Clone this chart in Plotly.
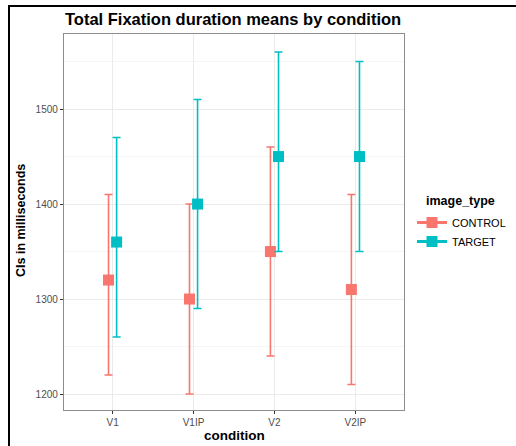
import plotly.graph_objects as go

conditions = ["V1", "V1IP", "V2", "V2IP"]
groups = ["CONTROL", "TARGET"]
control_mean = [1320, 1300, 1350, 1310]
control_low = [1220, 1200, 1240, 1210]
control_high = [1410, 1400, 1460, 1410]
target_mean = [1360, 1400, 1450, 1450]
target_low = [1260, 1290, 1350, 1350]
target_high = [1470, 1510, 1560, 1550]
y_ticks = [1200, 1300, 1400, 1500]

colors = {"CONTROL": "#F8766D", "TARGET": "#00BFC4"}
series = {
    "CONTROL": (control_mean, control_low, control_high, -0.05),
    "TARGET": (target_mean, target_low, target_high, 0.05),
}

W, H = 516, 446
L, R, T, B = 64, 112, 34, 36
pw, ph = W - L - R, H - T - B

def px_x(p):
    return (p - L) / pw

def px_y(p):
    return (H - B - p) / ph

fig = go.Figure()
for g in groups:
    m, lo, hi, off = series[g]
    xs = [i + off for i in range(len(conditions))]
    fig.add_trace(go.Scatter(
        x=xs, y=m, mode="markers", name=g, showlegend=False,
        marker=dict(symbol="square", size=11, color=colors[g]),
        error_y=dict(type="data", symmetric=False,
                     array=[h - v for h, v in zip(hi, m)],
                     arrayminus=[v - l for v, l in zip(m, lo)],
                     color=colors[g], thickness=1.6, width=4),
    ))
for g in groups:
    fig.add_trace(go.Scatter(
        x=[None], y=[None], mode="lines+markers", name=g,
        marker=dict(symbol="square", size=11, color=colors[g]),
        line=dict(color=colors[g], width=3),
    ))

font = "Liberation Sans, Arial, sans-serif"
fig.update_layout(
    width=W, height=H,
    margin=dict(l=L, r=R, t=T, b=B, autoexpand=False),
    paper_bgcolor="white", plot_bgcolor="white",
    font=dict(family=font, color="#000000"),
    title=dict(text="<b>Total Fixation duration means by condition</b>",
               font=dict(size=16.5, color="#000000", family=font),
               x=px_x(65), xref="paper", xanchor="left",
               y=1 - 19 / H, yref="container", yanchor="middle"),
    xaxis=dict(range=[-0.6, 3.6], tickvals=list(range(len(conditions))), ticktext=conditions,
               showgrid=True, gridcolor="#EBEBEB", gridwidth=1.1, zeroline=False,
               showline=True, mirror=True, linecolor="#8C8C8C", linewidth=1.3,
               ticks="outside", ticklen=3, tickcolor="#333333", tickwidth=1,
               tickfont=dict(size=10, color="#4D4D4D", family=font), automargin=False),
    yaxis=dict(range=[1183.2, 1579], tickvals=y_ticks,
               showgrid=True, gridcolor="#EBEBEB", gridwidth=1.1, zeroline=False,
               minor=dict(dtick=50, tick0=1250, showgrid=True, gridcolor="#F5F5F5", gridwidth=0.8, ticks=""),
               showline=True, mirror=True, linecolor="#8C8C8C", linewidth=1.3,
               ticks="outside", ticklen=3, tickcolor="#333333", tickwidth=1,
               tickfont=dict(size=10, color="#4D4D4D", family=font), automargin=False),
    legend=dict(x=px_x(412), y=px_y(208), xanchor="left", yanchor="top",
                font=dict(size=11, color="#000000", family=font),
                bgcolor="rgba(0,0,0,0)", itemwidth=30, tracegroupgap=0),
    annotations=[
        dict(text="<b>condition</b>", x=px_x(234), y=px_y(436), xref="paper", yref="paper",
             showarrow=False, xanchor="center", yanchor="middle",
             font=dict(size=13.5, color="#000000", family=font)),
        dict(text="<b>CIs in milliseconds</b>", x=px_x(21), y=px_y(221), xref="paper", yref="paper",
             showarrow=False, xanchor="center", yanchor="middle", textangle=-90,
             font=dict(size=12.5, color="#000000", family=font)),
        dict(text="<b>image_type</b>", x=px_x(424), y=px_y(201), xref="paper", yref="paper",
             showarrow=False, xanchor="left", yanchor="middle",
             font=dict(size=12.5, color="#000000", family=font)),
    ],
    shapes=[
        dict(type="line", xref="paper", yref="paper", x0=px_x(9), x1=px_x(520),
             y0=px_y(6), y1=px_y(6), line=dict(color="black", width=2)),
        dict(type="line", xref="paper", yref="paper", x0=px_x(9), x1=px_x(9),
             y0=px_y(5), y1=px_y(450), line=dict(color="black", width=2)),
    ],
)

fig.write_html("out.html", config={"displayModeBar": False},
               post_script="document.body.style.margin='0';")
